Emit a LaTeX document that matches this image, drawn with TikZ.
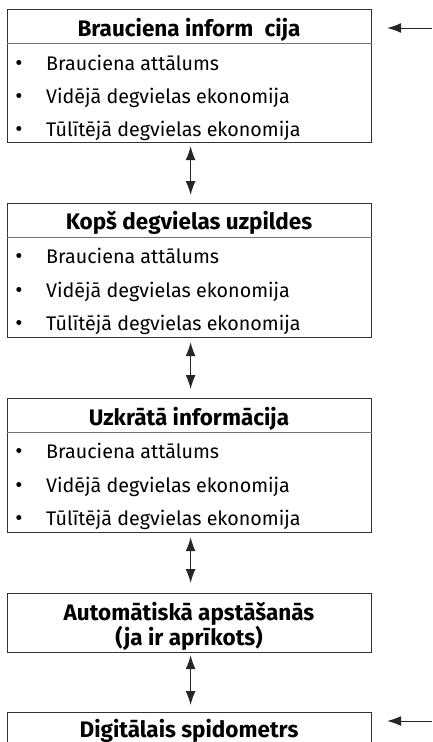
\documentclass[tikz,border=0pt]{standalone}
\usepackage{fontspec}
\setmainfont{Fira Sans}
\usetikzlibrary{arrows.meta}
\begin{document}
\begin{tikzpicture}[x=1pt,y=-1pt,
  boxnode/.style={draw=black!80, line width=1.2pt, minimum width=364pt, inner sep=0pt, anchor=north west},
  sepline/.style={draw=black!55, line width=1pt},
  hdr/.style={font=\fontsize{22.5}{24}\selectfont\bfseries, anchor=base, inner sep=0pt},
  itm/.style={font=\fontsize{19.7}{24}\selectfont, anchor=base west, inner sep=0pt},
  bul/.style={font=\fontsize{22}{24}\selectfont, anchor=base, inner sep=0pt},
  dblarrow/.style={{Latex[length=14pt,width=10pt]}-{Latex[length=14pt,width=10pt]}, line width=1.2pt, draw=black!85},
  sglarrow/.style={-{Latex[length=14pt,width=10pt]}, line width=1pt, draw=black!85}
]
\useasboundingbox (0,0) rectangle (432,742);

% Box 1
\node[boxnode, minimum height=133pt] (b1) at (7,9) {};
\draw[sepline] ([yshift=-34pt]b1.north west) -- ([yshift=-34pt]b1.north east);
\node[hdr] (h1) at (189,36) {Brauciena inform \hspace{6pt}cija};
\node[bul] (b1u1) at (19,70) {•};
\node[itm] (b1i1) at (46,70) {Brauciena attālums};
\node[bul] (b1u2) at (19,103) {•};
\node[itm] (b1i2) at (46,103) {Vidējā degvielas ekonomija};
\node[bul] (b1u3) at (19,136) {•};
\node[itm] (b1i3) at (46,136) {Tūlītējā degvielas ekonomija};

% Box 2
\node[boxnode, minimum height=134pt] (b2) at (7,203) {};
\draw[sepline] ([yshift=-34pt]b2.north west) -- ([yshift=-34pt]b2.north east);
\node[hdr] (h2) at (189,229) {Kopš degvielas uzpildes};
\node[bul] (b2u1) at (19,263) {•};
\node[itm] (b2i1) at (46,263) {Brauciena attālums};
\node[bul] (b2u2) at (19,297) {•};
\node[itm] (b2i2) at (46,297) {Vidējā degvielas ekonomija};
\node[bul] (b2u3) at (19,330) {•};
\node[itm] (b2i3) at (46,330) {Tūlītējā degvielas ekonomija};

% Box 3
\node[boxnode, minimum height=134pt] (b3) at (7,398) {};
\draw[sepline] ([yshift=-34pt]b3.north west) -- ([yshift=-34pt]b3.north east);
\node[hdr] (h3) at (189,425) {Uzkrātā informācija};
\node[bul] (b3u1) at (19,458) {•};
\node[itm] (b3i1) at (46,458) {Brauciena attālums};
\node[bul] (b3u2) at (19,492) {•};
\node[itm] (b3i2) at (46,492) {Vidējā degvielas ekonomija};
\node[bul] (b3u3) at (19,525) {•};
\node[itm] (b3i3) at (46,525) {Tūlītējā degvielas ekonomija};

% Box 4
\node[boxnode, minimum height=59pt] (b4) at (7,593) {};
\node[hdr] (h4a) at (189,620) {Automātiskā apstāšanās};
\node[hdr] (h4b) at (189,645) {(ja ir aprīkots)};

% Box 5
\node[boxnode, minimum height=60pt] (b5) at (7,712) {};
\node[hdr] (h5) at (189,737) {Digitālais spidometrs};

% vertical double arrows
\draw[dblarrow] ([xshift=1pt,yshift=-3pt]b1.south) -- ([xshift=1pt,yshift=8pt]b2.north);
\draw[dblarrow] ([xshift=1pt,yshift=-4pt]b2.south) -- ([xshift=1pt,yshift=9pt]b3.north);
\draw[dblarrow] ([xshift=1pt,yshift=-4pt]b3.south) -- ([xshift=1pt,yshift=10pt]b4.north);
\draw[dblarrow] ([xshift=1pt,yshift=-2pt]b4.south) -- ([xshift=1pt,yshift=7pt]b5.north);

% incoming arrows from the right
\coordinate (in1) at (432,28);
\coordinate (in5) at (432,721);
\draw[sglarrow, shorten >=15pt] (in1) -- (in1 -| b1.east);
\draw[sglarrow, shorten >=15pt] (in5) -- (in5 -| b5.east);
\end{tikzpicture}
\end{document}
